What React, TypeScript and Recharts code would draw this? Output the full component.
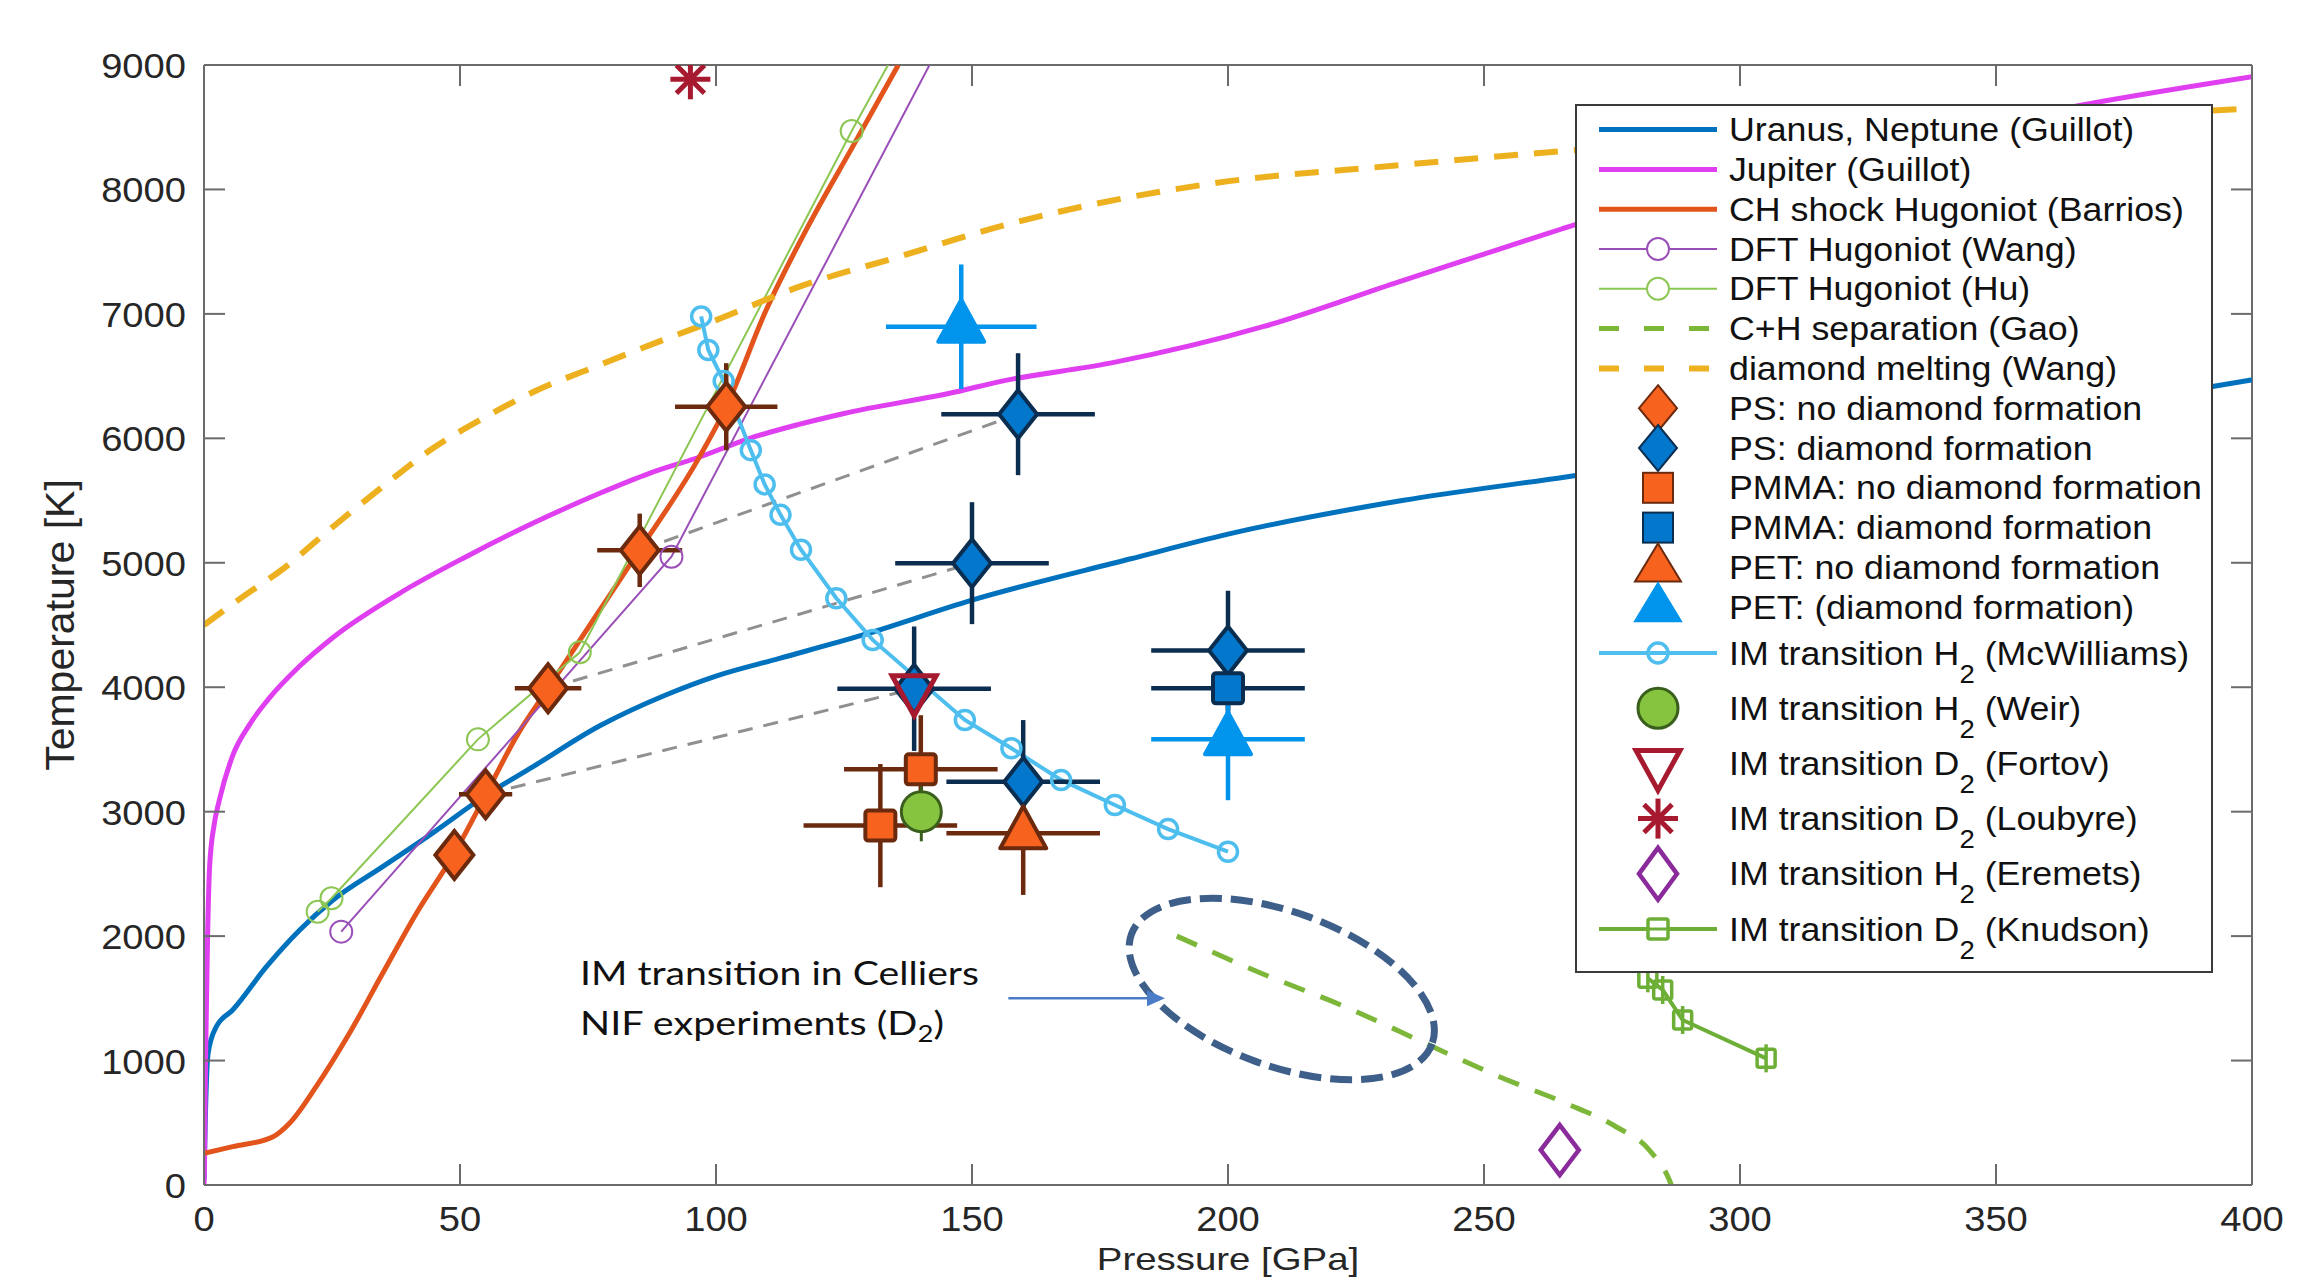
import React from "react";
import { ComposedChart, Line, Scatter, XAxis, YAxis, ErrorBar, ReferenceLine } from "recharts";

const W = 2323;
const H = 1279;
const PLOT_W = 2048;
const PLOT_H = 1120;
const TICK = 21;
const AXIS = "#6b6b6b";
const INK = "#262626";
const SANS = "'Liberation Sans', Arial, Helvetica, sans-serif";

const xTicks = [0, 50, 100, 150, 200, 250, 300, 350, 400];
const yTicks = [0, 1000, 2000, 3000, 4000, 5000, 6000, 7000, 8000, 9000];

// planetary isentropes (Guillot)
const uranusP = [0, 0.3, 0.8, 2.4, 5.6, 12.2, 18.7, 25.2, 34.9, 44.7, 55, 64.2, 77.3, 90.3, 100, 112.4, 128.7, 150, 180.8, 200, 234, 266, 300, 340, 370, 392, 400];
const uranusT = [40, 600, 1058, 1272, 1406, 1754, 2049, 2290, 2558, 2830, 3130, 3360, 3690, 3940, 4090, 4232, 4420, 4700, 5030, 5230, 5500, 5690, 5900, 6130, 6290, 6415, 6470];
const jupiterP = [0, 0.1, 0.3, 0.7, 1.1, 2, 3, 5.6, 8.9, 12.5, 18.7, 25.2, 38.2, 51.2, 64.2, 77.3, 87, 96.8, 106.6, 116, 125, 147, 155.4, 177, 207, 233.5, 250, 268, 300, 335, 369, 400];
const jupiterT = [0, 150, 1000, 2000, 2560, 2900, 3094, 3450, 3700, 3900, 4170, 4400, 4755, 5049, 5317, 5559, 5719, 5850, 6000, 6110, 6200, 6374, 6456, 6604, 6899, 7260, 7480, 7720, 8100, 8420, 8694, 8905];
// Hugoniots
const barriosP = [0, 5.6, 13.5, 16.7, 21.9, 28.4, 34.9, 41.5, 48.9, 55, 61, 67.2, 76, 85.1, 96.8, 102, 109.8, 118.3, 126.7, 135.6];
const barriosT = [255, 308, 388, 496, 790, 1219, 1701, 2184, 2666, 3134, 3603, 3991, 4540, 5103, 5853, 6254, 7031, 7728, 8344, 9000];
const wangP = [26.8, 91.3, 141.7];
const wangT = [2036, 5049, 9000];
const wangMarkP = [26.8, 91.3];
const wangMarkT = [2036, 5049];
const huP = [22.2, 24.9, 53.5, 73.4, 126.5, 133.6];
const huT = [2196, 2304, 3581, 4281, 8470, 9000];
const huMarkP = [22.2, 24.9, 53.5, 73.4, 126.5];
const huMarkT = [2196, 2304, 3581, 4281, 8470];
// phase lines
const gaoP = [190, 206, 223, 240, 253, 266, 275.8, 282.3, 286.2, 286.6];
const gaoT = [2000, 1710, 1430, 1111, 870, 656, 468, 281, 40, 0];
const meltP = [0, 7.6, 15.4, 25.2, 34.9, 44.7, 54.5, 64.2, 77.3, 90.3, 100, 116.3, 135.8, 157, 196.8, 233.5, 265, 300, 350, 400];
const meltT = [4500, 4728, 4950, 5290, 5612, 5920, 6160, 6370, 6590, 6800, 6950, 7219, 7460, 7720, 8047, 8195, 8307, 8420, 8540, 8650];
const mcwP = [97.1, 98.5, 101.5, 106.8, 109.5, 112.6, 116.6, 123.5, 130.6, 148.6, 157.7, 167.4, 177.9, 188.3, 200];
const mcwT = [6980, 6710, 6460, 5905, 5630, 5385, 5105, 4715, 4380, 3737, 3509, 3255, 3054, 2860, 2678];
const knudsonP = [282, 284.9, 288.8, 305.1];
const knudsonT = [1661, 1567, 1326, 1018];

// experiments: pressure, temperature, x error, y error
const psNoP = [48.9, 55, 67.2, 85.1, 102];
const psNoT = [2652, 3140, 3991, 5100, 6254];
const psNoEx = [0, 5.2, 6.5, 8.3, 10];
const psNoEy = [0, 120, 150, 295, 350];
const psYesP = [159, 150, 138.7, 160, 200];
const psYesT = [6194, 4997, 3988, 3241, 4295];
const psYesEx = [15, 15, 15, 15, 15];
const psYesEy = [490, 490, 500, 495, 480];
const pmmaNoP = [140, 132.1];
const pmmaNoT = [3340, 2888];
const pmmaNoEx = [15, 15];
const pmmaNoEy = [435, 495];
const pmmaYesP = [200];
const pmmaYesT = [3991];
const pmmaYesEx = [15];
const pmmaYesEy = [490];
const petNoP = [160];
const petNoT = [2826];
const petNoEx = [15];
const petNoEy = [495];
const petYesP = [147.9, 200];
const petYesT = [6897, 3582];
const petYesEx = [14.7, 15];
const petYesEy = [500, 490];
const weirP = [140.1];
const weirT = [3000];
const weirEy = [238];
const fortovP = [138.7];
const fortovT = [3988];
const loubyreP = [95];
const loubyreT = [8885];
const eremetsP = [264.8];
const eremetsT = [281];

// links between no-diamond and diamond shots
const linkA = [[55, 3140], [138.7, 3988]];
const linkB = [[67.2, 3991], [150, 4997]];
const linkC = [[85.1, 5100], [159, 6194]];

// Celliers annotation
const ellipseCenter = [{ p: 210.5, t: 1575 }];
const arrowLine = [{ p: 157.1, t: 1500 }, { p: 186, t: 1500 }];
const arrowTip = [{ p: 187.7, t: 1500 }];

const legendLabels = [
  "Uranus, Neptune (Guillot)",
  "Jupiter (Guillot)",
  "CH shock Hugoniot (Barrios)",
  "DFT Hugoniot (Wang)",
  "DFT Hugoniot (Hu)",
  "C+H separation (Gao)",
  "diamond melting (Wang)",
  "PS: no diamond formation",
  "PS: diamond formation",
  "PMMA: no diamond formation",
  "PMMA: diamond formation",
  "PET: no diamond formation",
  "PET: (diamond formation)",
  "IM transition H_2 (McWilliams)",
  "IM transition H_2 (Weir)",
  "IM transition D_2 (Fortov)",
  "IM transition D_2 (Loubyre)",
  "IM transition H_2 (Eremets)",
  "IM transition D_2 (Knudson)",
];

const C = {
  uranus: "#0072BD",
  jupiter: "#DF3FF0",
  barrios: "#E2541C",
  wang: "#9A4FB8",
  hu: "#8CC653",
  gao: "#7DB73A",
  melt: "#EDB120",
  mcw: "#4DBEEE",
  orange: "#F7631F",
  brown: "#6B2A0E",
  blue: "#0377CC",
  navy: "#0B2E50",
  petBlue: "#0094EC",
  weir: "#86C440",
  weirEdge: "#3A5E1C",
  red: "#A6192E",
  eremets: "#8B2A9B",
  knudson: "#6DAF36",
  gray: "#909090",
  ellipse: "#3E5F8A",
  arrow: "#4A7CC7",
};

const pts = (p: number[], t: number[]) => p.map((v, i) => ({ p: v, t: t[i] }));
const errPts = (p: number[], t: number[], ex: number[], ey: number[]) =>
  p.map((v, i) => ({ p: v, t: t[i], ex: ex[i], ey: ey[i] }));
const link = (seg: number[][]) => seg.map(([p, t]) => ({ p, t }));

// marker drawing
const diamond = (cx: number, cy: number, fill: string, stroke: string, hh = 24, sw = 4) => (
  <path d={`M${cx},${cy - hh}L${cx + 19},${cy}L${cx},${cy + hh}L${cx - 19},${cy}Z`} fill={fill} stroke={stroke} strokeWidth={sw} />
);
const square = (cx: number, cy: number, fill: string, stroke: string) => (
  <rect x={cx - 15} y={cy - 15} width={30} height={30} rx={3} fill={fill} stroke={stroke} strokeWidth={4} />
);
const triUp = (cx: number, cy: number, fill: string, stroke: string) => (
  <path d={`M${cx},${cy - 27}L${cx + 23},${cy + 15}L${cx - 23},${cy + 15}Z`} fill={fill} stroke={stroke} strokeWidth={4} strokeLinejoin="round" />
);
const triDown = (cx: number, cy: number) => (
  <path d={`M${cx},${cy + 27}L${cx + 22},${cy - 13}L${cx - 22},${cy - 13}Z`} fill="none" stroke={C.red} strokeWidth={5} />
);
const asterisk = (cx: number, cy: number) => (
  <g stroke={C.red} strokeWidth={5}>
    <line x1={cx} y1={cy - 20} x2={cx} y2={cy + 20} />
    <line x1={cx - 20} y1={cy} x2={cx + 20} y2={cy} />
    <line x1={cx - 14} y1={cy - 14} x2={cx + 14} y2={cy + 14} />
    <line x1={cx - 14} y1={cy + 14} x2={cx + 14} y2={cy - 14} />
  </g>
);
const weirDot = (cx: number, cy: number) => <circle cx={cx} cy={cy} r={20} fill={C.weir} stroke={C.weirEdge} strokeWidth={3} />;
const knudsonMark = (cx: number, cy: number) => (
  <g stroke={C.knudson} strokeWidth={3.5} fill="none">
    <rect x={cx - 9} y={cy - 9} width={18} height={18} rx={2} />
    <line x1={cx} y1={cy - 14} x2={cx} y2={cy + 14} />
  </g>
);

const XTick = (props: any) => {
  const { x, y, payload } = props;
  return (
    <g>
      <line x1={x} y1={y} x2={x} y2={y - TICK} stroke={AXIS} strokeWidth={2} />
      <line x1={x} y1={y - PLOT_H} x2={x} y2={y - PLOT_H + TICK} stroke={AXIS} strokeWidth={2} />
      <text transform={`translate(${x},${y + 46}) scale(1.09,1)`} textAnchor="middle" fontSize={35} fill={INK} fontFamily={SANS}>
        {payload.value}
      </text>
    </g>
  );
};

const YTick = (props: any) => {
  const { x, y, payload } = props;
  return (
    <g>
      <line x1={x} y1={y} x2={x + TICK} y2={y} stroke={AXIS} strokeWidth={2} />
      <line x1={x + PLOT_W} y1={y} x2={x + PLOT_W - TICK} y2={y} stroke={AXIS} strokeWidth={2} />
      <text transform={`translate(${x - 18},${y + 13}) scale(1.09,1)`} textAnchor="end" fontSize={35} fill={INK} fontFamily={SANS}>
        {payload.value}
      </text>
    </g>
  );
};

// legend geometry
const LX1 = 1599;
const LX2 = 1717;
const LMX = 1658;
const LTX = 1729;
const rowY = (i: number) => (i < 13 ? 129.6 + 39.8 * i : 653 + 55.2 * (i - 13));

const legendSymbol = (i: number, cy: number) => {
  const seg = (color: string, sw: number, dash?: string) => (
    <line x1={LX1} y1={cy} x2={LX2} y2={cy} stroke={color} strokeWidth={sw} strokeDasharray={dash} />
  );
  switch (i) {
    case 0: return seg(C.uranus, 5);
    case 1: return seg(C.jupiter, 5);
    case 2: return seg(C.barrios, 5);
    case 3: return <g>{seg(C.wang, 2)}<circle cx={LMX} cy={cy} r={11} fill="#fff" stroke={C.wang} strokeWidth={2} /></g>;
    case 4: return <g>{seg(C.hu, 2)}<circle cx={LMX} cy={cy} r={11} fill="#fff" stroke={C.hu} strokeWidth={2} /></g>;
    case 5: return seg(C.gao, 5, "20 25");
    case 6: return seg(C.melt, 6, "20 25");
    case 7: return diamond(LMX, cy, C.orange, C.brown, 23, 2);
    case 8: return diamond(LMX, cy, C.blue, C.navy, 23, 2);
    case 9: return <rect x={LMX - 15} y={cy - 15} width={30} height={30} fill={C.orange} stroke={C.brown} strokeWidth={2} />;
    case 10: return <rect x={LMX - 15} y={cy - 15} width={30} height={30} fill={C.blue} stroke={C.navy} strokeWidth={2} />;
    case 11: return <path d={`M${LMX},${cy - 24}L${LMX + 23},${cy + 14}L${LMX - 23},${cy + 14}Z`} fill={C.orange} stroke={C.brown} strokeWidth={2} />;
    case 12: return <path d={`M${LMX},${cy - 24}L${LMX + 23},${cy + 14}L${LMX - 23},${cy + 14}Z`} fill={C.petBlue} stroke={C.petBlue} strokeWidth={2} />;
    case 13: return <g>{seg(C.mcw, 4)}<circle cx={LMX} cy={cy} r={10} fill="#fff" stroke={C.mcw} strokeWidth={3.5} /><line x1={LMX - 8} y1={cy} x2={LMX + 8} y2={cy} stroke={C.mcw} strokeWidth={4} /></g>;
    case 14: return weirDot(LMX, cy);
    case 15: return triDown(LMX, cy);
    case 16: return asterisk(LMX, cy);
    case 17: return <path d={`M${LMX},${cy - 26}L${LMX + 19},${cy}L${LMX},${cy + 26}L${LMX - 19},${cy}Z`} fill="none" stroke={C.eremets} strokeWidth={4.5} />;
    default: return <g>{seg(C.knudson, 4)}<rect x={LMX - 10} y={cy - 10} width={20} height={20} rx={2} fill="#fff" stroke={C.knudson} strokeWidth={3.5} /><line x1={LMX - 10} y1={cy} x2={LMX + 10} y2={cy} stroke={C.knudson} strokeWidth={3} /></g>;
  }
};

const LegendText = ({ label, cy }: { label: string; cy: number }) => {
  const parts = label.split("_2");
  return (
    <text transform={`translate(${LTX},${cy + 11.5}) scale(1.1,1)`} fontSize={32.5} fill="#111" fontFamily={SANS}>
      {parts[0]}
      {parts.length > 1 && (
        <>
          <tspan fontSize={25} dy={18}>2</tspan>
          <tspan dy={-18}>{parts[1]}</tspan>
        </>
      )}
    </text>
  );
};

const errorBars = (color: string, withX = true) => [
  withX && <ErrorBar key="ex" dataKey="ex" direction="x" width={0} stroke={color} strokeWidth={4.5} isAnimationActive={false} />,
  <ErrorBar key="ey" dataKey="ey" direction="y" width={0} stroke={color} strokeWidth={4.5} isAnimationActive={false} />,
];

export default function App() {
  return (
    <div style={{ position: "absolute", left: 0, top: 0, width: W, height: H, background: "#fff", overflow: "hidden" }}>
      <ComposedChart width={W} height={H} margin={{ top: 65, right: 71, bottom: 34, left: 124 }}>
        <XAxis
          type="number"
          dataKey="p"
          domain={[0, 400]}
          ticks={xTicks}
          allowDataOverflow
          height={60}
          tickSize={0}
          tickMargin={0}
          tickLine={false}
          axisLine={{ stroke: AXIS, strokeWidth: 2 }}
          tick={<XTick />}
        />
        <YAxis
          type="number"
          dataKey="t"
          domain={[0, 9000]}
          ticks={yTicks}
          allowDataOverflow
          width={80}
          tickSize={0}
          tickMargin={0}
          tickLine={false}
          axisLine={{ stroke: AXIS, strokeWidth: 2 }}
          tick={<YTick />}
        />
        <ReferenceLine y={9000} stroke={AXIS} strokeWidth={2} />
        <ReferenceLine x={400} stroke={AXIS} strokeWidth={2} />

        {[linkA, linkB, linkC].map((seg, i) => (
          <Line key={`link${i}`} data={link(seg)} dataKey="t" type="linear" stroke={C.gray} strokeWidth={3} strokeDasharray="15 11" dot={false} activeDot={false} isAnimationActive={false} />
        ))}
        <Line data={pts(uranusP, uranusT)} dataKey="t" type="monotone" stroke={C.uranus} strokeWidth={5} dot={false} activeDot={false} isAnimationActive={false} />
        <Line data={pts(jupiterP, jupiterT)} dataKey="t" type="monotone" stroke={C.jupiter} strokeWidth={5} dot={false} activeDot={false} isAnimationActive={false} />
        <Line data={pts(barriosP, barriosT)} dataKey="t" type="monotone" stroke={C.barrios} strokeWidth={5} dot={false} activeDot={false} isAnimationActive={false} />
        <Line data={pts(wangP, wangT)} dataKey="t" type="linear" stroke={C.wang} strokeWidth={2} dot={false} activeDot={false} isAnimationActive={false} />
        <Line data={pts(huP, huT)} dataKey="t" type="linear" stroke={C.hu} strokeWidth={2} dot={false} activeDot={false} isAnimationActive={false} />
        <Line data={pts(gaoP, gaoT)} dataKey="t" type="monotone" stroke={C.gao} strokeWidth={5} strokeDasharray="22 17" dot={false} activeDot={false} isAnimationActive={false} />
        <Line data={pts(meltP, meltT)} dataKey="t" type="monotone" stroke={C.melt} strokeWidth={6} strokeDasharray="24 16" dot={false} activeDot={false} isAnimationActive={false} />
        <Line data={pts(mcwP, mcwT)} dataKey="t" type="linear" stroke={C.mcw} strokeWidth={4} dot={{ r: 9.5, fill: "none", stroke: C.mcw, strokeWidth: 3.5 }} activeDot={false} isAnimationActive={false} />
        <Line
          data={pts(knudsonP, knudsonT)}
          dataKey="t"
          type="linear"
          stroke={C.knudson}
          strokeWidth={4}
          dot={(pr: any) => <g key={`kn${pr.index}`}>{knudsonMark(pr.cx, pr.cy)}</g>}
          activeDot={false}
          isAnimationActive={false}
        />
        <Line data={arrowLine} dataKey="t" type="linear" stroke={C.arrow} strokeWidth={2.5} dot={false} activeDot={false} isAnimationActive={false} />

        <Scatter data={pts(wangMarkP, wangMarkT)} isAnimationActive={false} shape={(p: any) => <circle cx={p.cx} cy={p.cy} r={11} fill="none" stroke={C.wang} strokeWidth={2} />} />
        <Scatter data={pts(huMarkP, huMarkT)} isAnimationActive={false} shape={(p: any) => <circle cx={p.cx} cy={p.cy} r={11} fill="none" stroke={C.hu} strokeWidth={2} />} />

        <Scatter data={errPts(psYesP, psYesT, psYesEx, psYesEy)} isAnimationActive={false} shape={(p: any) => diamond(p.cx, p.cy, C.blue, C.navy)}>
          {errorBars(C.navy)}
        </Scatter>
        <Scatter data={errPts(pmmaYesP, pmmaYesT, pmmaYesEx, pmmaYesEy)} isAnimationActive={false} shape={(p: any) => square(p.cx, p.cy, C.blue, C.navy)}>
          {errorBars(C.navy)}
        </Scatter>
        <Scatter data={errPts(petYesP, petYesT, petYesEx, petYesEy)} isAnimationActive={false} shape={(p: any) => triUp(p.cx, p.cy, C.petBlue, C.petBlue)}>
          {errorBars(C.petBlue)}
        </Scatter>
        <Scatter data={errPts(psNoP, psNoT, psNoEx, psNoEy)} isAnimationActive={false} shape={(p: any) => diamond(p.cx, p.cy, C.orange, C.brown)}>
          {errorBars(C.brown)}
        </Scatter>
        <Scatter data={errPts(pmmaNoP, pmmaNoT, pmmaNoEx, pmmaNoEy)} isAnimationActive={false} shape={(p: any) => square(p.cx, p.cy, C.orange, C.brown)}>
          {errorBars(C.brown)}
        </Scatter>
        <Scatter data={errPts(petNoP, petNoT, petNoEx, petNoEy)} isAnimationActive={false} shape={(p: any) => triUp(p.cx, p.cy, C.orange, C.brown)}>
          {errorBars(C.brown)}
        </Scatter>
        <Scatter data={errPts(weirP, weirT, [0], weirEy)} isAnimationActive={false} shape={(p: any) => weirDot(p.cx, p.cy)}>
          <ErrorBar dataKey="ey" direction="y" width={0} stroke={C.weirEdge} strokeWidth={3} isAnimationActive={false} />
        </Scatter>
        <Scatter data={pts(fortovP, fortovT)} isAnimationActive={false} shape={(p: any) => triDown(p.cx, p.cy)} />
        <Scatter data={pts(loubyreP, loubyreT)} isAnimationActive={false} shape={(p: any) => asterisk(p.cx, p.cy)} />
        <Scatter
          data={pts(eremetsP, eremetsT)}
          isAnimationActive={false}
          shape={(p: any) => <path d={`M${p.cx},${p.cy - 25}L${p.cx + 19},${p.cy}L${p.cx},${p.cy + 25}L${p.cx - 19},${p.cy}Z`} fill="none" stroke={C.eremets} strokeWidth={4.5} />}
        />
        <Scatter
          data={ellipseCenter}
          isAnimationActive={false}
          shape={(p: any) => (
            <ellipse cx={p.cx} cy={p.cy} rx={160} ry={77} transform={`rotate(20 ${p.cx} ${p.cy})`} fill="none" stroke={C.ellipse} strokeWidth={7} strokeDasharray="22 9" />
          )}
        />
        <Scatter
          data={arrowTip}
          isAnimationActive={false}
          shape={(p: any) => <path d={`M${p.cx},${p.cy}L${p.cx - 18},${p.cy - 8}L${p.cx - 18},${p.cy + 8}Z`} fill={C.arrow} />}
        />
      </ComposedChart>

      <svg width={W} height={H} style={{ position: "absolute", left: 0, top: 0, pointerEvents: "none" }}>
        <rect x={1576} y={105} width={636} height={867} fill="#fff" stroke="#3a3a3a" strokeWidth={2} />
        {legendLabels.map((label, i) => (
          <g key={label}>
            {legendSymbol(i, rowY(i))}
            <LegendText label={label} cy={rowY(i)} />
          </g>
        ))}

        <text x={580} y={985} fontSize={33} fontFamily="Lato, 'Open Sans', sans-serif" fill="#111" textLength={399} lengthAdjust="spacingAndGlyphs">
          IM transition in Celliers
        </text>
        <text x={580} y={1035} fontSize={33} fontFamily="Lato, 'Open Sans', sans-serif" fill="#111" textLength={364} lengthAdjust="spacingAndGlyphs">
          NIF experiments (D<tspan fontSize={23} dy={7}>2</tspan><tspan dy={-7}>)</tspan>
        </text>

        <text transform="translate(74,625) rotate(-90)" textAnchor="middle" fontSize={41} fill={INK} fontFamily={SANS}>
          Temperature [K]
        </text>
        <text transform="translate(1228,1270) scale(1.2,1)" textAnchor="middle" fontSize={32} fill={INK} fontFamily={SANS}>
          Pressure [GPa]
        </text>
      </svg>
    </div>
  );
}
